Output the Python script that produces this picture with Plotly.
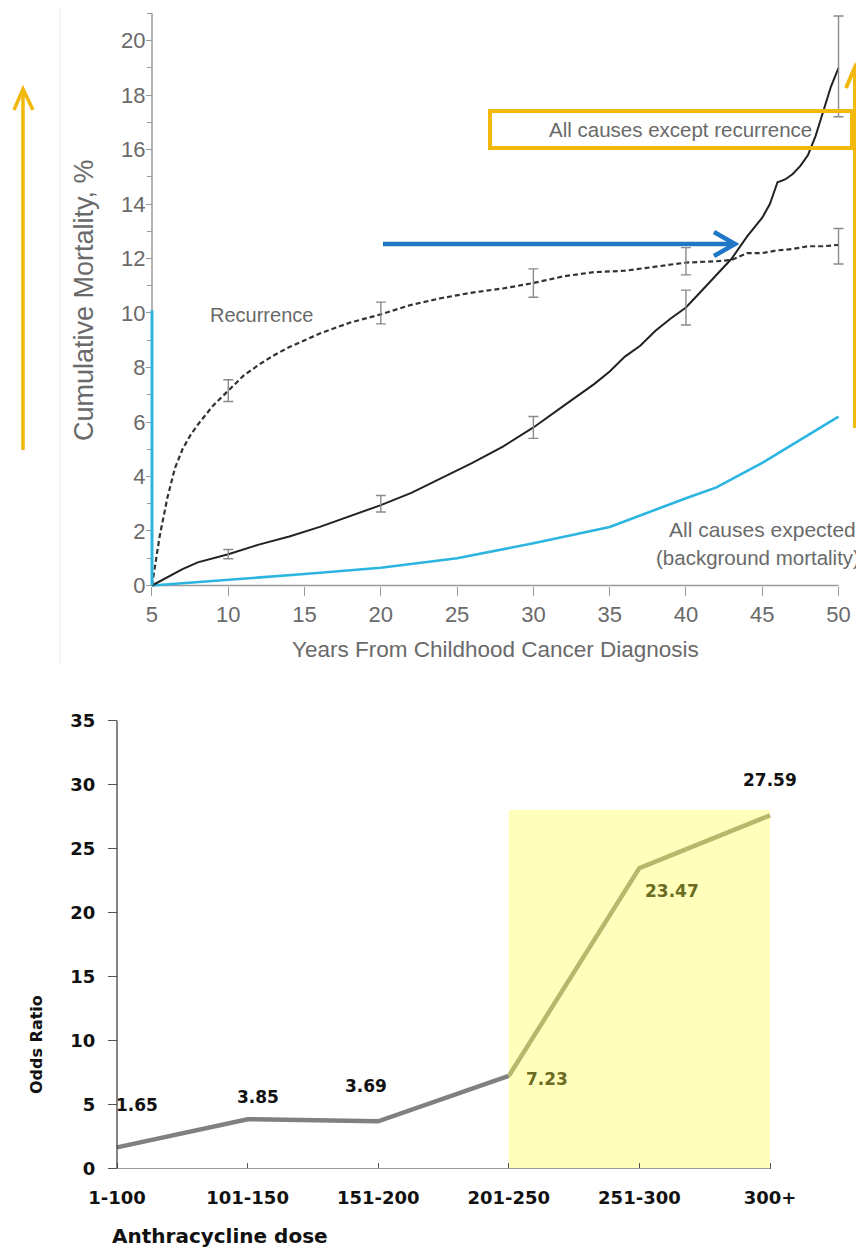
import plotly.graph_objects as go

W, H = 864, 1250
OFF = 8  # page offset of the figure inside the browser page

# ---------------- Top chart data ----------------
years_all = [5, 6, 7, 8, 9, 10, 12, 14, 16, 18, 20, 22, 24, 26, 28, 30, 32, 34, 35, 36, 37, 38, 39,
             40, 41, 42, 43, 44, 45, 45.5, 46, 46.5, 47, 47.5, 48, 48.5, 49, 49.5, 50]
mort_all = [0, 0.3, 0.6, 0.85, 1.0, 1.15, 1.5, 1.8, 2.15, 2.55, 2.95, 3.4, 3.95, 4.5, 5.1, 5.8, 6.6, 7.4,
            7.85, 8.4, 8.8, 9.35, 9.8, 10.2, 10.8, 11.4, 12.0, 12.8, 13.5, 14.0, 14.8, 14.9, 15.1, 15.4,
            15.8, 16.5, 17.4, 18.3, 19.0]

years_rec = [5, 5.5, 6, 6.5, 7, 7.5, 8, 9, 10, 11, 12, 13, 14, 15, 16, 18, 20, 22, 24, 26, 28, 30, 32,
             34, 36, 38, 40, 42, 43, 44, 45, 46, 47, 48, 49, 50]
mort_rec = [0, 1.8, 3.2, 4.3, 5.0, 5.5, 5.9, 6.6, 7.15, 7.7, 8.1, 8.45, 8.75, 9.0, 9.25, 9.65, 9.95,
            10.3, 10.55, 10.75, 10.9, 11.1, 11.35, 11.5, 11.55, 11.7, 11.85, 11.9, 11.95, 12.2, 12.2,
            12.3, 12.35, 12.45, 12.45, 12.5]

years_exp = [5, 10, 15, 20, 25, 30, 35, 40, 42, 45, 50]
mort_exp = [0, 0.2, 0.42, 0.65, 1.0, 1.55, 2.15, 3.2, 3.6, 4.5, 6.2]

err_years = [10, 20, 30, 40, 50]
err_all_mid = [1.15, 3.0, 5.8, 10.2, 19.05]
err_all_half = [0.17, 0.3, 0.4, 0.64, 1.85]
err_rec_mid = [7.15, 10.0, 11.1, 11.9, 12.45]
err_rec_half = [0.4, 0.4, 0.52, 0.5, 0.65]

top_xticks = [5, 10, 15, 20, 25, 30, 35, 40, 45, 50]
top_yticks = [0, 2, 4, 6, 8, 10, 12, 14, 16, 18, 20]

# ---------------- Bottom chart data ----------------
doses = ["1-100", "101-150", "151-200", "201-250", "251-300", "300+"]
odds = [1.65, 3.85, 3.69, 7.23, 23.47, 27.59]
hl_start = 3  # index where highlighted segment starts

# ---------------- styles ----------------
SANS = "Liberation Sans, Arial, sans-serif"
BOLD = "DejaVu Sans, Verdana, sans-serif"
GRAY_TXT = "#6a6a6a"
AXIS_GRAY = "#9a9a9a"
CYAN = "#2bb5e0"
GOLD = "#F2B90C"
BLUE = "#1f77c6"
OLIVE_LINE = "#b6b96c"
OLIVE_TXT = "#6b6b22"


def px(x):
    return (x - OFF) / W


def py(y):
    return 1 - (y - OFF) / H


def dom_x(p0, p1):
    return [px(p0), px(p1)]


def dom_y(ptop, pbot):
    return [py(pbot), py(ptop)]


# pixel layout of the two panels
T_X5, T_XPER = 152.0, 15.256      # top: x=5 at 152 px, px per year
T_Y0, T_YPER = 585.5, 27.25       # top: y=0 at 585.5 px, px per %
T_XR = [4.6, 51.0]
T_YR = [-0.5, 21.1]
B_X0, B_XPER = 117.0, 130.6       # bottom: first category at 117 px
B_Y0, B_YPER = 1168.5, 12.8
B_XR = [-0.1, 5.1]
B_YR = [-0.3, 35.0]

top_dom_x = dom_x(T_X5 + (T_XR[0] - 5) * T_XPER, T_X5 + (T_XR[1] - 5) * T_XPER)
top_dom_y = dom_y(T_Y0 - T_YR[1] * T_YPER, T_Y0 - T_YR[0] * T_YPER)
bot_dom_x = dom_x(B_X0 + B_XR[0] * B_XPER, B_X0 + B_XR[1] * B_XPER)
bot_dom_y = dom_y(B_Y0 - B_YR[1] * B_YPER, B_Y0 - B_YR[0] * B_YPER)

fig = go.Figure()

fig.add_trace(go.Scatter(x=years_exp, y=mort_exp, mode="lines",
                         line=dict(color=CYAN, width=2.6), xaxis="x", yaxis="y", showlegend=False))
fig.add_trace(go.Scatter(x=years_all, y=mort_all, mode="lines",
                         line=dict(color="#222222", width=2), xaxis="x", yaxis="y", showlegend=False))
fig.add_trace(go.Scatter(x=years_rec, y=mort_rec, mode="lines",
                         line=dict(color="#333333", width=2.2, dash="5px,3px"),
                         xaxis="x", yaxis="y", showlegend=False))
fig.add_trace(go.Scatter(x=err_years, y=err_all_mid, mode="markers",
                         marker=dict(size=1, color="rgba(0,0,0,0)"),
                         error_y=dict(type="data", array=err_all_half, color="#8a8a8a", thickness=1.4, width=5),
                         xaxis="x", yaxis="y", showlegend=False))
fig.add_trace(go.Scatter(x=err_years, y=err_rec_mid, mode="markers",
                         marker=dict(size=1, color="rgba(0,0,0,0)"),
                         error_y=dict(type="data", array=err_rec_half, color="#8a8a8a", thickness=1.4, width=5),
                         xaxis="x", yaxis="y", showlegend=False))

fig.add_trace(go.Scatter(x=doses[:hl_start + 1], y=odds[:hl_start + 1], mode="lines",
                         line=dict(color="#808080", width=4.5), xaxis="x2", yaxis="y2", showlegend=False))
fig.add_trace(go.Scatter(x=doses[hl_start:], y=odds[hl_start:], mode="lines",
                         line=dict(color=OLIVE_LINE, width=4.5), xaxis="x2", yaxis="y2", showlegend=False))

# ---------------- axes ----------------
fig.update_layout(
    width=W, height=H, margin=dict(l=0, r=0, t=0, b=0, pad=0, autoexpand=False),
    paper_bgcolor="white", plot_bgcolor="rgba(0,0,0,0)",
    xaxis=dict(domain=top_dom_x, range=T_XR, anchor="free", position=py(T_Y0),
               automargin=False,
               tickvals=top_xticks, ticks="outside", ticklen=9, tickwidth=1.4, tickcolor=AXIS_GRAY,
               showline=False, showgrid=False, zeroline=False,
               tickfont=dict(family=SANS, size=22, color=GRAY_TXT), ticklabelstandoff=0),
    yaxis=dict(domain=top_dom_y, range=T_YR, anchor="free", position=px(T_X5),
               automargin=False,
               tickvals=top_yticks, ticks="outside", ticklen=6, tickwidth=1.4, tickcolor=AXIS_GRAY,
               minor=dict(dtick=1, tick0=0, ticks="outside", ticklen=5, tickwidth=1.2, tickcolor=AXIS_GRAY),
               showline=False, showgrid=False, zeroline=False,
               tickfont=dict(family=SANS, size=22, color=GRAY_TXT), ticklabelstandoff=-4),
    xaxis2=dict(domain=bot_dom_x, range=B_XR, type="category", categoryarray=doses,
                anchor="free", position=py(B_Y0), automargin=False,
                ticks="inside", ticklen=6, tickwidth=1, tickcolor="#555555",
                showline=False, showgrid=False, zeroline=False,
                tickfont=dict(family=BOLD, size=18, color="#111111", weight="bold"), ticklabelstandoff=16),
    yaxis2=dict(domain=bot_dom_y, range=B_YR, anchor="free", position=px(B_X0),
                automargin=False,
                dtick=5, tick0=0, ticks="outside", ticklen=9, tickwidth=1, tickcolor="#555555",
                showline=False, showgrid=False, zeroline=False,
                tickfont=dict(family=BOLD, size=18, color="#111111", weight="bold"), ticklabelstandoff=9),
)

shapes = []
# top axis lines
shapes.append(dict(type="line", xref="x", yref="y", x0=5, x1=5, y0=0, y1=21,
                   line=dict(color=AXIS_GRAY, width=1.5), layer="below"))
shapes.append(dict(type="line", xref="x", yref="y", x0=5, x1=50, y0=0, y1=0,
                   line=dict(color=AXIS_GRAY, width=1.5), layer="below"))
# cyan highlight on y axis
shapes.append(dict(type="line", xref="x", yref="y", x0=5, x1=5, y0=0, y1=10.1,
                   line=dict(color=CYAN, width=3)))
# faint image border
shapes.append(dict(type="line", xref="paper", yref="paper", x0=px(60), x1=px(60), y0=py(8), y1=py(665),
                   line=dict(color="#f3f1ec", width=1.5), layer="below"))
# bottom: highlight rect
shapes.append(dict(type="rect", xref="x2", yref="y2", x0=3, x1=5, y0=0, y1=28,
                   fillcolor="#FFFFBB", line=dict(width=0), layer="below"))
# bottom axis lines
shapes.append(dict(type="line", xref="x2", yref="y2", x0=0, x1=0, y0=0, y1=35,
                   line=dict(color="#333333", width=1.2)))
shapes.append(dict(type="line", xref="x2", yref="y2", x0=0, x1=5, y0=0, y1=0,
                   line=dict(color="#999999", width=1.2)))
# gold box around label
shapes.append(dict(type="rect", xref="paper", yref="paper", x0=px(490), x1=px(852), y0=py(148), y1=py(111),
                   line=dict(color=GOLD, width=4)))
# blue arrow
shapes.append(dict(type="line", xref="paper", yref="paper", x0=px(383), x1=px(732), y0=py(244), y1=py(244),
                   line=dict(color=BLUE, width=4.5)))
shapes.append(dict(type="path", xref="paper", yref="paper",
                   path=f"M {px(714)},{py(232)} L {px(735)},{py(244)} L {px(714)},{py(256)}",
                   line=dict(color=BLUE, width=4.5)))
# gold arrows
shapes.append(dict(type="line", xref="paper", yref="paper", x0=px(23), x1=px(23), y0=py(450), y1=py(90),
                   line=dict(color=GOLD, width=3.5)))
shapes.append(dict(type="path", xref="paper", yref="paper",
                   path=f"M {px(14)},{py(110)} L {px(23)},{py(89)} L {px(33)},{py(110)}",
                   line=dict(color=GOLD, width=3.5)))
shapes.append(dict(type="line", xref="paper", yref="paper", x0=px(855), x1=px(855), y0=py(428), y1=py(68),
                   line=dict(color=GOLD, width=4)))
shapes.append(dict(type="path", xref="paper", yref="paper",
                   path=f"M {px(846)},{py(88)} L {px(855)},{py(67)} L {px(864)},{py(88)}",
                   line=dict(color=GOLD, width=4)))
fig.update_layout(shapes=shapes)


def txt(text, x, y, size, color=GRAY_TXT, family=SANS, xanchor="center", angle=0):
    return dict(text=text, xref="paper", yref="paper", x=px(x), y=py(y), xanchor=xanchor, yanchor="middle",
                textangle=angle, showarrow=False, font=dict(family=family, size=size, color=color))


ann = []
# top texts
ann.append(txt("Cumulative Mortality, %", 84, 300, 27, angle=-90))
ann.append(txt("Years From Childhood Cancer Diagnosis", 495, 650, 22.5))
ann.append(txt("Recurrence", 262, 315, 20))
ann.append(txt("All causes except recurrence", 680, 129, 20.5))
ann.append(txt("All causes expected", 858, 529, 21, xanchor="right"))
ann.append(txt("(background mortality)", 862, 558, 20.5, xanchor="right"))
# bottom titles
ann.append(txt("<b>Odds Ratio</b>", 36, 1045, 16, color="#111111", family=BOLD, angle=-90))
ann.append(txt("<b>Anthracycline dose</b>", 110, 1236, 20, color="#111111", family=BOLD, xanchor="left"))
# data labels: (xshift, yshift, color)
label_style = [(20, 42, "#111111"), (10, 22, "#111111"), (-12, 35, "#111111"),
               (38, -3, OLIVE_TXT), (33, -23, OLIVE_TXT), (0, 35, "#111111")]
for d, v, (xs, ys, c) in zip(doses, odds, label_style):
    ann.append(dict(text=f"<b>{v:.2f}</b>", xref="x2", yref="y2", x=d, y=v, xshift=xs, yshift=ys,
                    xanchor="center", yanchor="middle",
                    showarrow=False, font=dict(family=BOLD, size=17, color=c)))
fig.update_layout(annotations=ann)

fig.write_html("out.html")
